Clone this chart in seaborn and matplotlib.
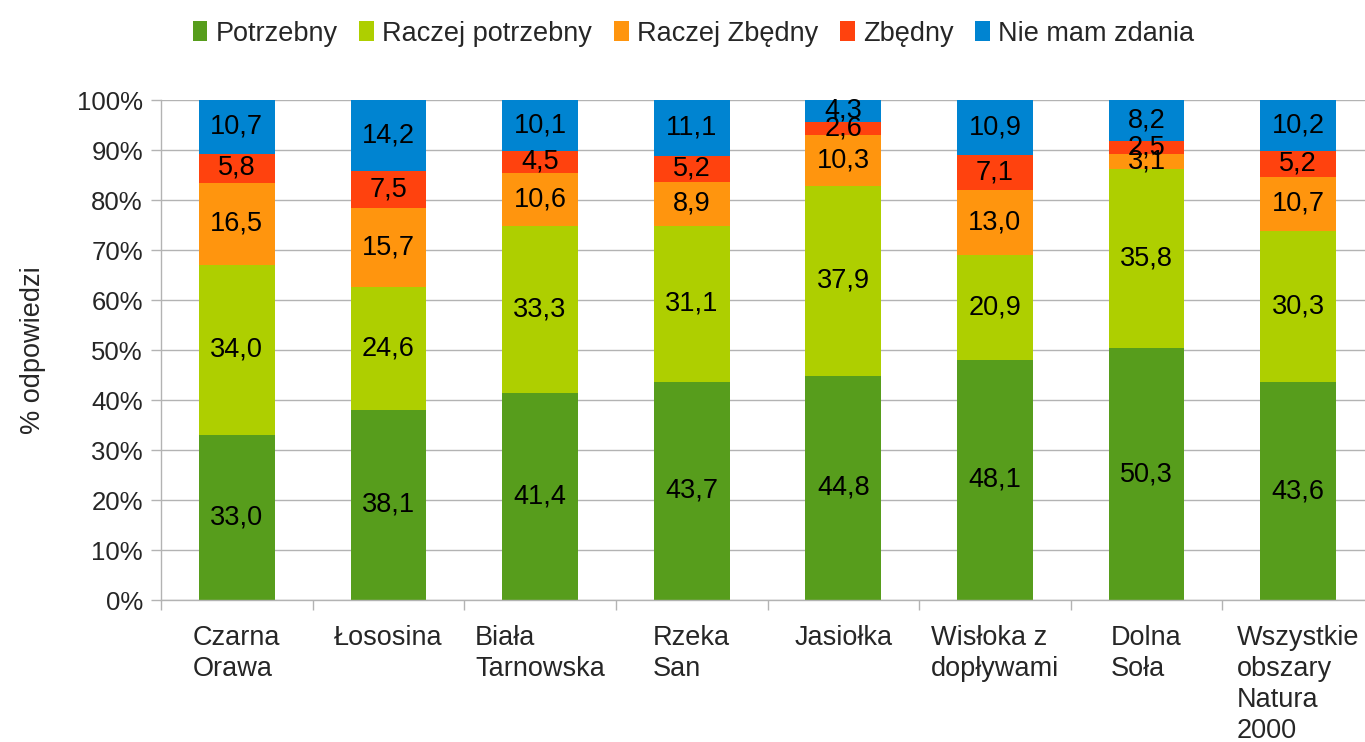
import numpy as np
import seaborn as sns
import matplotlib.pyplot as plt
from matplotlib.patches import Patch

# Dane z wykresu
kategorie = ["Czarna\nOrawa", "Łososina", "Biała\nTarnowska", "Rzeka\nSan", "Jasiołka",
             "Wisłoka z\ndopływami", "Dolna\nSoła", "Wszystkie\nobszary\nNatura\n2000"]
potrzebny = [33.0, 38.1, 41.4, 43.7, 44.8, 48.1, 50.3, 43.6]
raczej_potrzebny = [34.0, 24.6, 33.3, 31.1, 37.9, 20.9, 35.8, 30.3]
raczej_zbedny = [16.5, 15.7, 10.6, 8.9, 10.3, 13.0, 3.1, 10.7]
zbedny = [5.8, 7.5, 4.5, 5.2, 2.6, 7.1, 2.5, 5.2]
nie_mam = [10.7, 14.2, 10.1, 11.1, 4.3, 10.9, 8.2, 10.2]

serie = ["Potrzebny", "Raczej potrzebny", "Raczej Zbędny", "Zbędny", "Nie mam zdania"]
kolory = ["#579d1c", "#aecf00", "#ff950e", "#ff420e", "#0084d1"]

sns.set_style("white")
plt.rcParams['font.family'] = ['Liberation Sans', 'DejaVu Sans']

wartosci = np.array([potrzebny, raczej_potrzebny, raczej_zbedny, zbedny, nie_mam])
# wykres 100% - normalizacja
procenty = wartosci / wartosci.sum(axis=0) * 100
skumulowane = np.cumsum(procenty, axis=0)

fig = plt.figure(figsize=(13.65, 7.42), dpi=100)
ax = fig.add_axes([161 / 1365, 1 - 600 / 742, 1213 / 1365, 500 / 742])

# rysujemy od góry (najwyższa suma) do dołu, słupki nakładają się
for i in range(len(serie) - 1, -1, -1):
    sns.barplot(x=kategorie, y=skumulowane[i], color=kolory[i], saturation=1,
                width=0.5, linewidth=0, ax=ax)

# etykiety w segmentach
for i in range(len(serie)):
    for j in range(len(kategorie)):
        srodek = skumulowane[i, j] - procenty[i, j] / 2
        ax.text(j, srodek, f"{wartosci[i, j]:.1f}".replace(".", ","),
                ha="center", va="center", fontsize=19.5, color="black")

ax.set_xlim(-0.5, 7.5)
ax.set_ylim(0, 100)
ax.set_yticks(np.arange(0, 101, 10))
ax.set_yticklabels([f"{v}%" for v in range(0, 101, 10)], fontsize=18.5)
ax.yaxis.grid(True, color="#b3b3b3", linewidth=1)
ax.set_axisbelow(True)
ax.tick_params(axis="y", direction="out", length=7, width=1, color="#b3b3b3", pad=6, left=True)

ax.set_xticks(range(len(kategorie)))
ax.set_xticklabels(kategorie, fontsize=19.5, multialignment="left", linespacing=1.25)
ax.set_xticks(np.arange(-0.5, 8, 1), minor=True)
ax.tick_params(axis="x", which="major", length=0, pad=18)
ax.tick_params(axis="x", which="minor", direction="out", length=7, width=1, color="#b3b3b3", bottom=True)

for s in ["top", "right"]:
    ax.spines[s].set_visible(False)
for s in ["left", "bottom"]:
    ax.spines[s].set_color("#b3b3b3")
    ax.spines[s].set_linewidth(1)

ax.set_xlabel("")
ax.set_ylabel("% odpowiedzi", fontsize=19.5, labelpad=22)

uchwyty = [Patch(facecolor=k, edgecolor="none") for k in kolory]
fig.legend(uchwyty, serie, loc="upper center", bbox_to_anchor=(0.508, 1.005), ncol=5,
           frameon=False, fontsize=19.5, handlelength=0.55, handleheight=0.75,
           handletextpad=0.3, columnspacing=0.8)

fig.savefig("out.png", dpi=100)
